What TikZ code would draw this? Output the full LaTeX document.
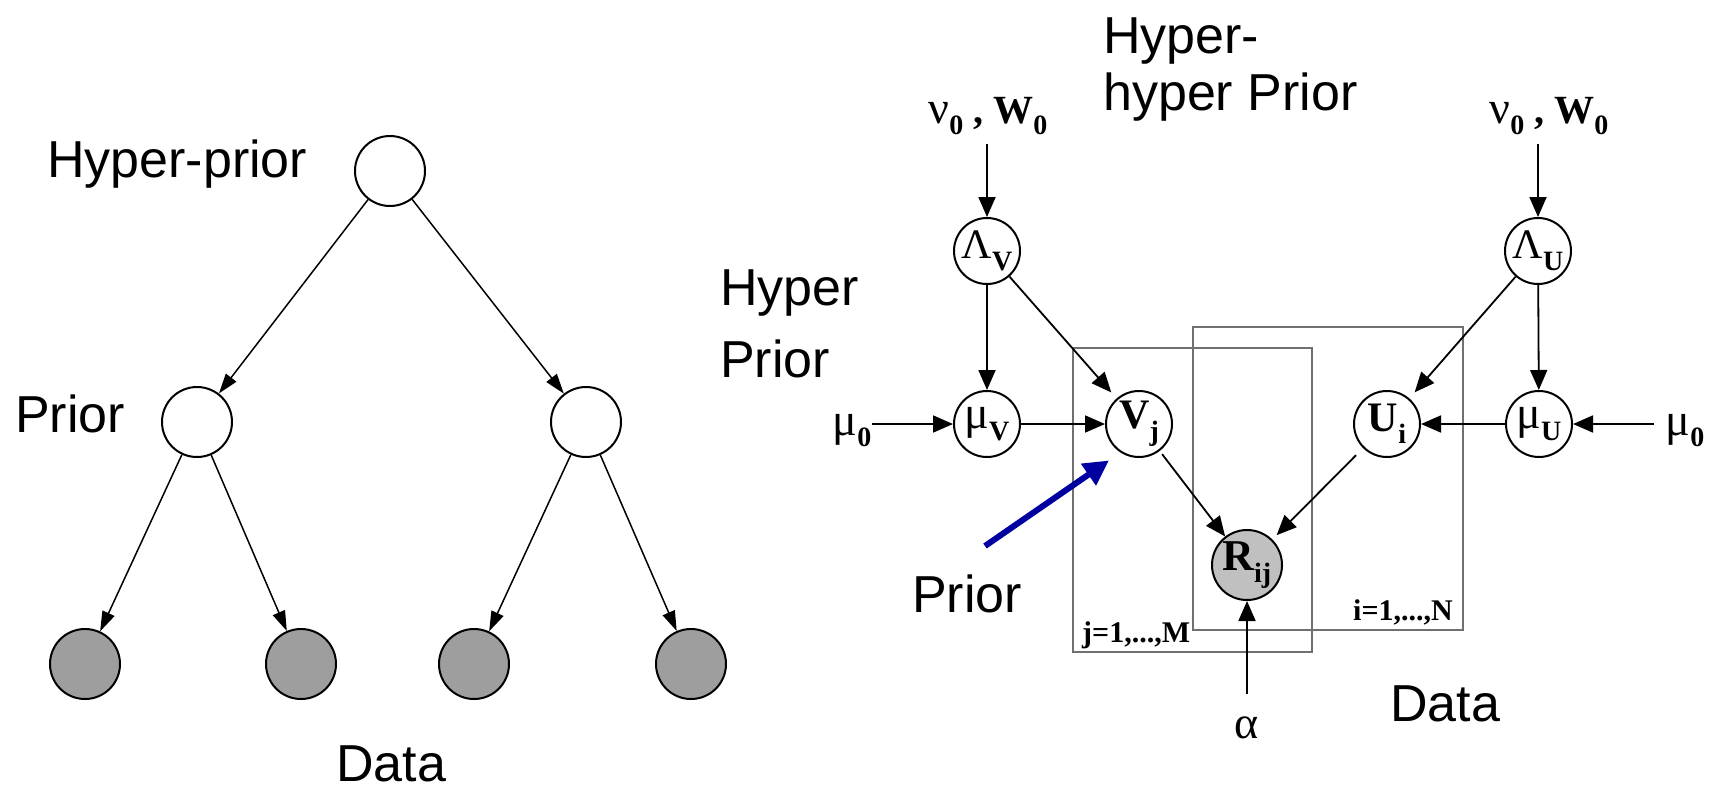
\documentclass[tikz,border=0pt]{standalone}
\usepackage{fontspec}
\usepackage{graphicx}
\setmainfont{Liberation Sans}
\newfontfamily\tms{Liberation Serif}
\usetikzlibrary{arrows.meta}
\definecolor{datagray}{HTML}{9E9E9E}
\definecolor{rgray}{HTML}{C0C0C0}
\definecolor{plategray}{HTML}{707070}
\definecolor{pblue}{HTML}{0000A0}
\newcommand\sbb[2][28]{\raisebox{-0.28em}{\fontsize{#1}{#1}\selectfont\bfseries #2}}
\newcommand\gk[1]{{\fontsize{46}{46}\selectfont #1}}
\tikzset{
  lbl/.style={anchor=base west, inner sep=0pt, text depth=0pt, font=\fontsize{52}{56}\selectfont},
  tnode/.style={circle, draw, line width=2pt, minimum size=70pt, inner sep=0pt},
  dnode/.style={tnode, fill=datagray},
  gnode/.style={circle, draw, line width=2pt, minimum size=66pt, inner sep=0pt, font=\tms\fontsize{42}{42}\selectfont},
  rnode/.style={gnode, minimum size=70pt, fill=rgray},
  tarr/.style={line width=1.5pt, -{Triangle[length=20pt,width=13pt]}},
  garr/.style={line width=1.8pt, -{Triangle[length=20pt,width=17pt]}},
  plate/.style={draw=plategray, line width=1.5pt},
  gtext/.style={inner sep=0pt, anchor=base, font=\tms\fontsize{40}{40}\selectfont},
  ptext/.style={inner sep=0pt, anchor=base west, font=\tms\bfseries\fontsize{30}{30}\selectfont},
  barr/.style={draw=pblue, line width=6pt, -{Triangle[length=25pt,width=25pt]}}
}
\begin{document}
\begin{tikzpicture}[x=1pt, y=-1pt]
\useasboundingbox (0,0) rectangle (1718,790);

% ---------- left tree ----------
\node[tnode] (top) at (390,171) {};
\node[tnode] (pl) at (197,422) {};
\node[tnode] (pr) at (586,422) {};
\node[dnode] (d1) at (85,664) {};
\node[dnode] (d2) at (301,664) {};
\node[dnode] (d3) at (474,664) {};
\node[dnode] (d4) at (691,664) {};
\draw[tarr] (top) -- (pl);
\draw[tarr] (top) -- (pr);
\draw[tarr] (pl) -- (d1);
\draw[tarr] (pl) -- (d2);
\draw[tarr] (pr) -- (d3);
\draw[tarr] (pr) -- (d4);
\node[lbl] (thp) at (47,177) {Hyper-prior};
\node[lbl] (tpr) at (15,432) {Prior};
\node[lbl] (tdl) at (336,781) {Data};

% ---------- right model ----------
\draw[plate] (1073,348) rectangle (1312,652);
\draw[plate] (1193,327) rectangle (1463,630);
\node[ptext] (pj) at (1082,642) {j=1,...,M};
\node[ptext] (pi) at (1353,620) {i=1,...,N};

\node[gnode] (LV) at (987,251) {Λ\sbb{V}};
\node[gnode] (LU) at (1538,251) {Λ\sbb{U}};
\node[gnode] (muV) at (987,424) {\gk{μ}\sbb{V}};
\node[gnode] (Vj) at (1139,424) {\textbf{V}\sbb{j}};
\node[gnode] (Ui) at (1387,424) {\textbf{U}\sbb{i}};
\node[gnode] (muU) at (1539,424) {\gk{μ}\sbb{U}};
\node[rnode] (R) at (1247,565) {\fontsize{44}{44}\selectfont\textbf{R}\kern-1pt\sbb[28]{ij}};

\node[gtext] (nuL) at (988,123) {\gk{ν}\sbb[28]{0} \textbf{,} \textbf{W}\sbb[28]{0}};
\node[gtext] (nuR) at (1549,123) {\gk{ν}\sbb[28]{0} \textbf{,} \textbf{W}\sbb[28]{0}};
\node[gtext] (mu0L) at (852,435) {\gk{μ}\sbb[28]{0}};
\node[gtext] (mu0R) at (1685,435) {\gk{μ}\sbb[28]{0}};
\node[gtext] (alpha) at (1247,738) {\gk{α}};

\draw[garr, shorten <=9pt] (nuL.south -| LV) -- (LV);
\draw[garr, shorten <=9pt] (nuR.south -| LU) -- (LU);
\draw[garr] (LV) -- (muV);
\draw[garr] (LU) -- (muU);
\draw[garr, shorten >=8pt] (LV) -- (Vj);
\draw[garr, shorten >=8pt] (LU) -- (Ui);
\draw[garr] (mu0L.east |- muV) -- (muV);
\draw[garr] (muV) -- (Vj);
\draw[garr] (muU) -- (Ui);
\draw[garr, shorten <=11pt] (mu0R.west |- muU) -- (muU);
\draw[garr, shorten <=4pt] (Vj) -- (R);
\draw[garr, shorten <=10pt, shorten >=6pt] (Ui) -- (R);
\draw[garr, shorten <=22pt] (alpha) -- (R);

\node[lbl] (thh1) at (1103,53) {Hyper-};
\node[lbl] (thh2) at (1103,110) {hyper Prior};
\node[lbl] (thp1) at (720,305) {Hyper};
\node[lbl] (thp2) at (720,377) {Prior};
\node[lbl] (tpr2) at (912,612) {Prior};
\node[lbl] (tdr) at (1390,721) {Data};

\coordinate (bt) at (985,546);
\draw[barr, shorten >=14pt] (bt) -- (Vj.237);
\end{tikzpicture}
\end{document}
